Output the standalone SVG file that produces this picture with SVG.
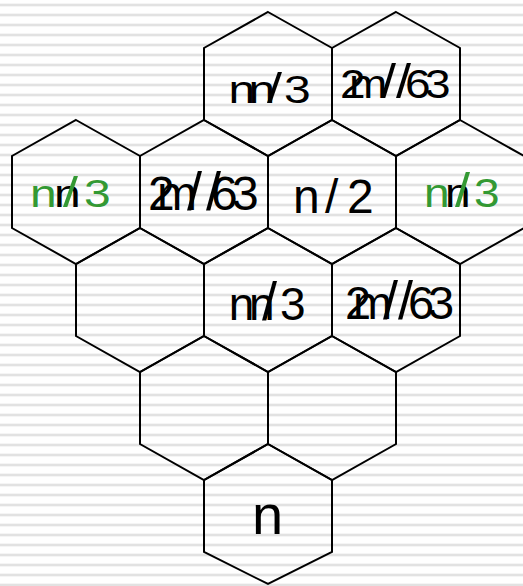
<svg xmlns="http://www.w3.org/2000/svg" width="523" height="586" viewBox="0 0 523 586">
<defs>
<pattern id="stripes" x="0" y="0" width="20" height="10" patternUnits="userSpaceOnUse">
<rect x="0" y="0" width="20" height="10" fill="#ffffff"/>
<rect x="0" y="3.5" width="20" height="3" fill="#ececec"/>
<rect x="0" y="4.5" width="20" height="1" fill="#d9d9d9"/>
</pattern>
</defs>
<style>
.hex{fill:none;stroke:#000;stroke-width:2;stroke-linejoin:miter}
.t{font-family:"Liberation Sans",Arial,sans-serif;fill:#000}
.g{fill:#339933}
.k{fill:#000}
.s{font-size:54px}
</style>
<rect x="0" y="0" width="523" height="586" fill="url(#stripes)"/>
<g id="nodes">
<g id="h-r1-a">
<polygon class="hex" points="268,12 332,48 332,120 268,156 204,120 204,48"/>
<text class="t" font-size="48" transform="translate(0,103) scale(1,0.8)" x="228.5 248.5 267 284" y="0">nn<tspan class="s">/</tspan>3</text>
</g>
<g id="h-r1-b">
<polygon class="hex" points="396,12 460,48 460,120 396,156 332,120 332,48"/>
<text class="t" font-size="46" transform="translate(0,98) scale(1,0.9)" x="340 349 381 396 405 425" y="0">2m<tspan class="s">/</tspan><tspan class="s">/</tspan>63</text>
</g>
<g id="h-r2-a">
<polygon class="hex" points="76,120 140,156 140,228 76,264 12,228 12,156"/>
<text class="t g" font-size="48" transform="translate(0,207) scale(1,0.8)" x="30 54 63 84" y="0">n<tspan class="k">n</tspan><tspan class="s">/</tspan>3</text>
</g>
<g id="h-r2-b">
<polygon class="hex" points="204,120 268,156 268,228 204,264 140,228 140,156"/>
<text class="t" font-size="48" x="148 157 187 206 211 232" y="210">2m<tspan class="s">/</tspan><tspan class="s">/</tspan>63</text>
</g>
<g id="h-r2-c">
<polygon class="hex" points="332,120 396,156 396,228 332,264 268,228 268,156"/>
<text class="t" font-size="48" x="293 325 347" y="213">n/2</text>
</g>
<g id="h-r2-d">
<polygon class="hex" points="460,120 524,156 524,228 460,264 396,228 396,156"/>
<text class="t g" font-size="46" transform="translate(0,207) scale(1,0.88)" x="424 445 455 474" y="0">n<tspan class="k">n</tspan><tspan class="s">/</tspan>3</text>
</g>
<g id="h-r3-a">
<polygon class="hex" points="140,228 204,264 204,336 140,372 76,336 76,264"/>
</g>
<g id="h-r3-b">
<polygon class="hex" points="268,228 332,264 332,336 268,372 204,336 204,264"/>
<text class="t" font-size="46" x="228.7 249 262 280" y="320">nn<tspan class="s">/</tspan>3</text>
</g>
<g id="h-r3-c">
<polygon class="hex" points="396,228 460,264 460,336 396,372 332,336 332,264"/>
<text class="t" font-size="47" x="345 353 383 398 408 428" y="319">2m<tspan class="s">/</tspan><tspan class="s">/</tspan>63</text>
</g>
<g id="h-r4-a">
<polygon class="hex" points="204,336 268,372 268,444 204,480 140,444 140,372"/>
</g>
<g id="h-r4-b">
<polygon class="hex" points="332,336 396,372 396,444 332,480 268,444 268,372"/>
</g>
<g id="h-r5">
<polygon class="hex" points="268,444 332,480 332,552 268,584 204,552 204,480"/>
<text class="t" font-size="56" x="252" y="534">n</text>
</g>
</g>
<g id="connectors"/>
</svg>
